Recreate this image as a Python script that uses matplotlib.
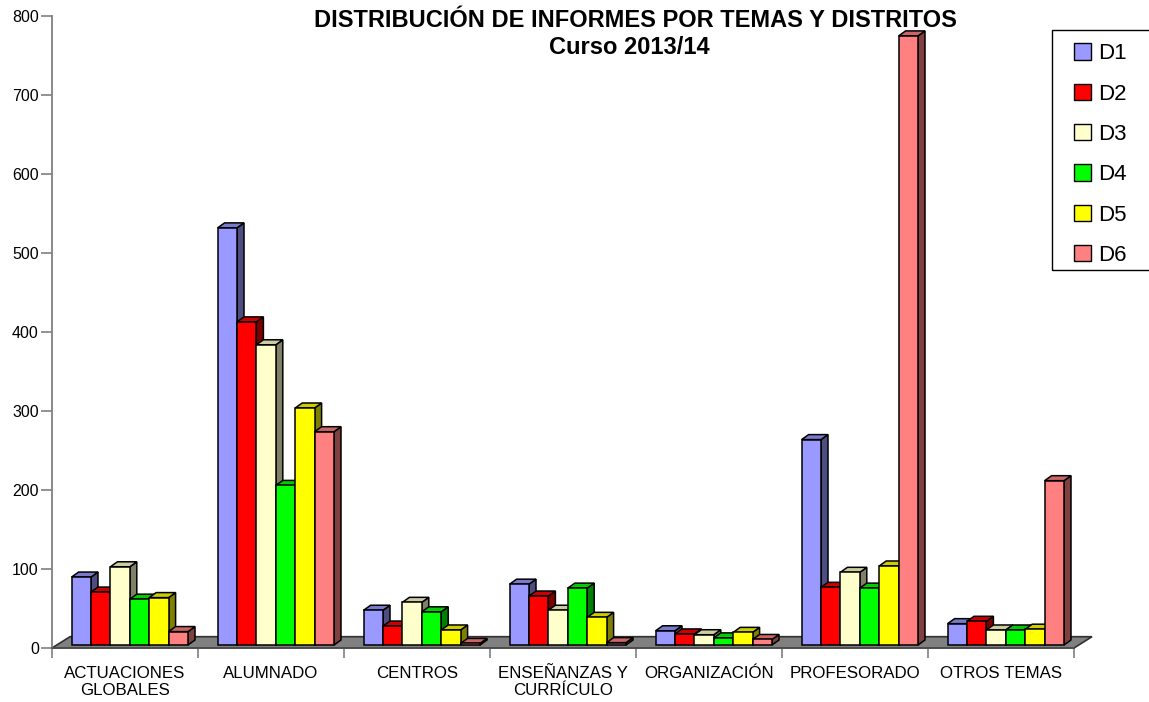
"""Informes por temas y distritos, curso 2013/14 (3D-style column chart)."""

import numpy as np
import matplotlib.pyplot as plt
from matplotlib.patches import Polygon, Rectangle, Patch
from matplotlib.colors import to_rgb

plt.rcParams["font.family"] = ["Liberation Sans", "DejaVu Sans"]

categories = [
    "ACTUACIONES\nGLOBALES",
    "ALUMNADO",
    "CENTROS",
    "ENSEÑANZAS Y\nCURRÍCULO",
    "ORGANIZACIÓN",
    "PROFESORADO",
    "OTROS TEMAS",
]
districts = ["D1", "D2", "D3", "D4", "D5", "D6"]

d1 = [86, 528, 44, 77, 18, 260, 27]
d2 = [67, 409, 24, 62, 14, 73, 30]
d3 = [99, 380, 54, 44, 13, 92, 19]
d4 = [58, 202, 42, 72, 9, 72, 19]
d5 = [60, 300, 19, 35, 16, 100, 20]
d6 = [17, 270, 2, 3, 7, 771, 208]
series = [d1, d2, d3, d4, d5, d6]

colors = ["#9999FF", "#FF0000", "#FFFFCC", "#00FF00", "#FFFF00", "#FF8080"]

W, H = 1149, 702
fig = plt.figure(figsize=(W / 100, H / 100), dpi=100)
ax = fig.add_axes([52 / W, 54 / H, 1022 / W, 632 / H])
ax.set_xlim(0, len(categories))
ax.set_ylim(0, 800)

# pixel -> data scale, used for the fake depth
px_x = len(categories) / 1022
px_y = 800 / 632


def shade(c, f):
    return tuple(v * f for v in to_rgb(c))


# floor
fdx, fdy = 18 * px_x, 11.3 * px_y
n = len(categories)
ax.add_patch(Polygon([(0, 0), (n, 0), (n + fdx, fdy), (fdx, fdy)],
                     closed=True, facecolor="#808080", edgecolor="#303030",
                     lw=1.2, clip_on=False, zorder=2))

# bars: side face, top face, then front face
w = 19.4 * px_x
ddx, ddy = 7 * px_x, 5 * px_y
base = 3 * px_y
start = (1 - len(series) * w) / 2 + 4.8 * px_x
z = 3
for i in range(n):
    for j, (vals, c) in enumerate(zip(series, colors)):
        v = vals[i]
        x0 = i + start + j * w
        top = base + v
        ax.add_patch(Polygon([(x0 + w, base), (x0 + w + ddx, base + ddy),
                              (x0 + w + ddx, top + ddy), (x0 + w, top)],
                             closed=True, facecolor=shade(c, 0.5),
                             edgecolor="black", lw=1.1, clip_on=False, zorder=z))
        ax.add_patch(Polygon([(x0, top), (x0 + ddx, top + ddy),
                              (x0 + w + ddx, top + ddy), (x0 + w, top)],
                             closed=True, facecolor=shade(c, 0.8),
                             edgecolor="black", lw=1.1, clip_on=False, zorder=z))
        ax.add_patch(Rectangle((x0, base), w, v, facecolor=c,
                               edgecolor="black", lw=1.1, clip_on=False, zorder=z + 0.5))
        z += 1

# axes styling
for s in ("top", "right"):
    ax.spines[s].set_visible(False)
ax.spines["left"].set_color("#808080")
ax.spines["left"].set_linewidth(1.3)
ax.spines["bottom"].set_color("#505050")
ax.spines["bottom"].set_linewidth(1.2)

ax.set_yticks(np.arange(0, 801, 100))
ax.tick_params(axis="y", length=8, width=1.2, color="#808080", pad=1.5,
               labelsize=11.5)
ax.set_xticks(np.arange(0, n + 1))
ax.set_xticklabels([])
ax.tick_params(axis="x", which="major", length=7.5, width=1.2, color="#808080")
ax.set_xticks(np.arange(n) + 0.5, minor=True)
ax.set_xticklabels(categories, minor=True)
ax.tick_params(axis="x", which="minor", length=0, pad=13, labelsize=12.2)

# titles
fig.text(635 / W, 1 - 9 / H, "DISTRIBUCIÓN DE INFORMES POR TEMAS Y DISTRITOS",
         ha="center", va="top", fontsize=17, fontweight="bold")
fig.text(629 / W, 1 - 36 / H, "Curso 2013/14",
         ha="center", va="top", fontsize=17, fontweight="bold")

# legend (frame drawn separately so it runs off the right edge like the original)
handles = [Patch(facecolor=c, edgecolor="black", lw=1.0) for c in colors]
fig.legend(handles, districts, loc="upper left",
           bbox_to_anchor=(1061 / W, 1 - 30 / H), borderaxespad=0,
           fontsize=16, handlelength=0.75, handleheight=0.75,
           handletextpad=0.3, labelspacing=0.87, borderpad=0.6,
           frameon=False)
fig.add_artist(Rectangle((1052 / W, 1 - 270 / H), 110 / W, 240 / H,
                         transform=fig.transFigure, facecolor="none",
                         edgecolor="black", lw=1.0, clip_on=False))

fig.savefig("out.png", dpi=100)
